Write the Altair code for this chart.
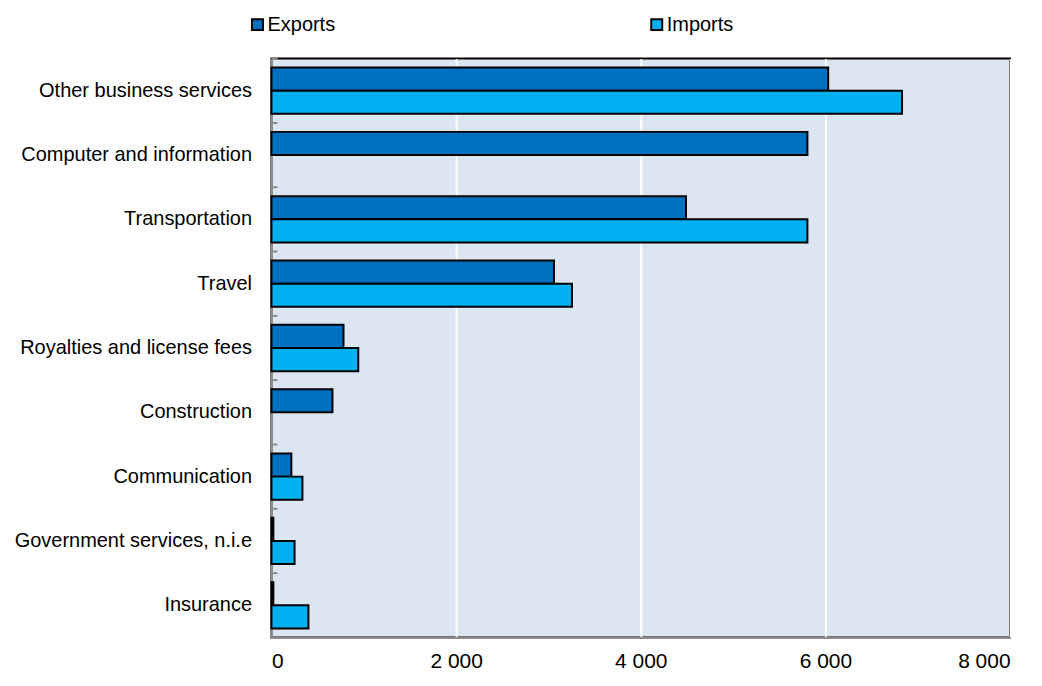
import altair as alt
import pandas as pd

categories = [
    "Other business services",
    "Computer and information",
    "Transportation",
    "Travel",
    "Royalties and license fees",
    "Construction",
    "Communication",
    "Government services, n.i.e",
    "Insurance",
]
exports = [6030, 5805, 4490, 3060, 780, 660, 215, 20, 20]
imports = [6830, None, 5805, 3255, 940, None, 335, 250, 400]
series = ["Exports", "Imports"]
colors = ["#0070C0", "#00B0F0"]

rows = []
for c, e, i in zip(categories, exports, imports):
    if e is not None:
        rows.append({"cat": c, "series": "Exports", "value": e})
    if i is not None:
        rows.append({"cat": c, "series": "Imports", "value": i})
df = pd.DataFrame(rows)
cat_df = pd.DataFrame({"cat": categories})

FONT = "Liberation Sans"

yscale = alt.Scale(domain=categories, paddingInner=0.28, paddingOuter=0.14)

bars = alt.Chart(df).mark_bar(stroke="black", strokeWidth=2).encode(
    x=alt.X(
        "value:Q",
        scale=alt.Scale(domain=[0, 8000], nice=False),
        axis=alt.Axis(
            values=[0, 2000, 4000, 6000, 8000],
            format=",d",
            labelExpr="replace(datum.label, ',', ' ')",
            title=None,
            grid=True,
            gridColor="white",
            gridWidth=2,
            ticks=False,
            domainColor="#8c8c8c",
            domainWidth=2,
            labelFont=FONT,
            labelFontSize=21,
            labelColor="black",
            labelPadding=13,
        ),
    ),
    y=alt.Y(
        "cat:N",
        scale=yscale,
        sort=categories,
        axis=alt.Axis(
            title=None,
            ticks=False,
            domainColor="#8c8c8c",
            domainWidth=2,
            labelFont=FONT,
            labelFontSize=20,
            labelColor="black",
            labelPadding=20,
            labelLimit=400,
        ),
    ),
    yOffset=alt.YOffset("series:N", scale=alt.Scale(domain=series, paddingInner=0, paddingOuter=0)),
    color=alt.Color(
        "series:N",
        scale=alt.Scale(domain=series, range=colors),
        legend=alt.Legend(
            title=None,
            orient="none",
            direction="horizontal",
            legendX=-24,
            legendY=-44,
            symbolType="square",
            symbolSize=121,
            symbolStrokeColor="black",
            symbolStrokeWidth=2,
            symbolOpacity=1,
            labelFont=FONT,
            labelFontSize=20,
            labelColor="black",
            labelOffset=0,
            columnPadding=312,
            padding=0,
        ),
    ),
)

ticks = alt.Chart(cat_df).mark_rule(color="#8c8c8c", strokeWidth=2).encode(
    y=alt.Y("cat:N", scale=yscale, sort=categories, bandPosition=0),
    yOffset=alt.value(-9),
    x=alt.value(0),
    x2=alt.value(6),
)

chart = (
    alt.layer(bars, ticks)
    .properties(
        width=740,
        height=580,
        background="white",
        padding={"left": 264, "top": 50, "right": 24, "bottom": 38},
        autosize=alt.AutoSizeParams(type="none"),
    )
    .configure_view(fill="#DCE6F2", stroke="black", strokeWidth=2)
)

chart.save("out.html", embed_options={"renderer": "svg", "actions": False})
